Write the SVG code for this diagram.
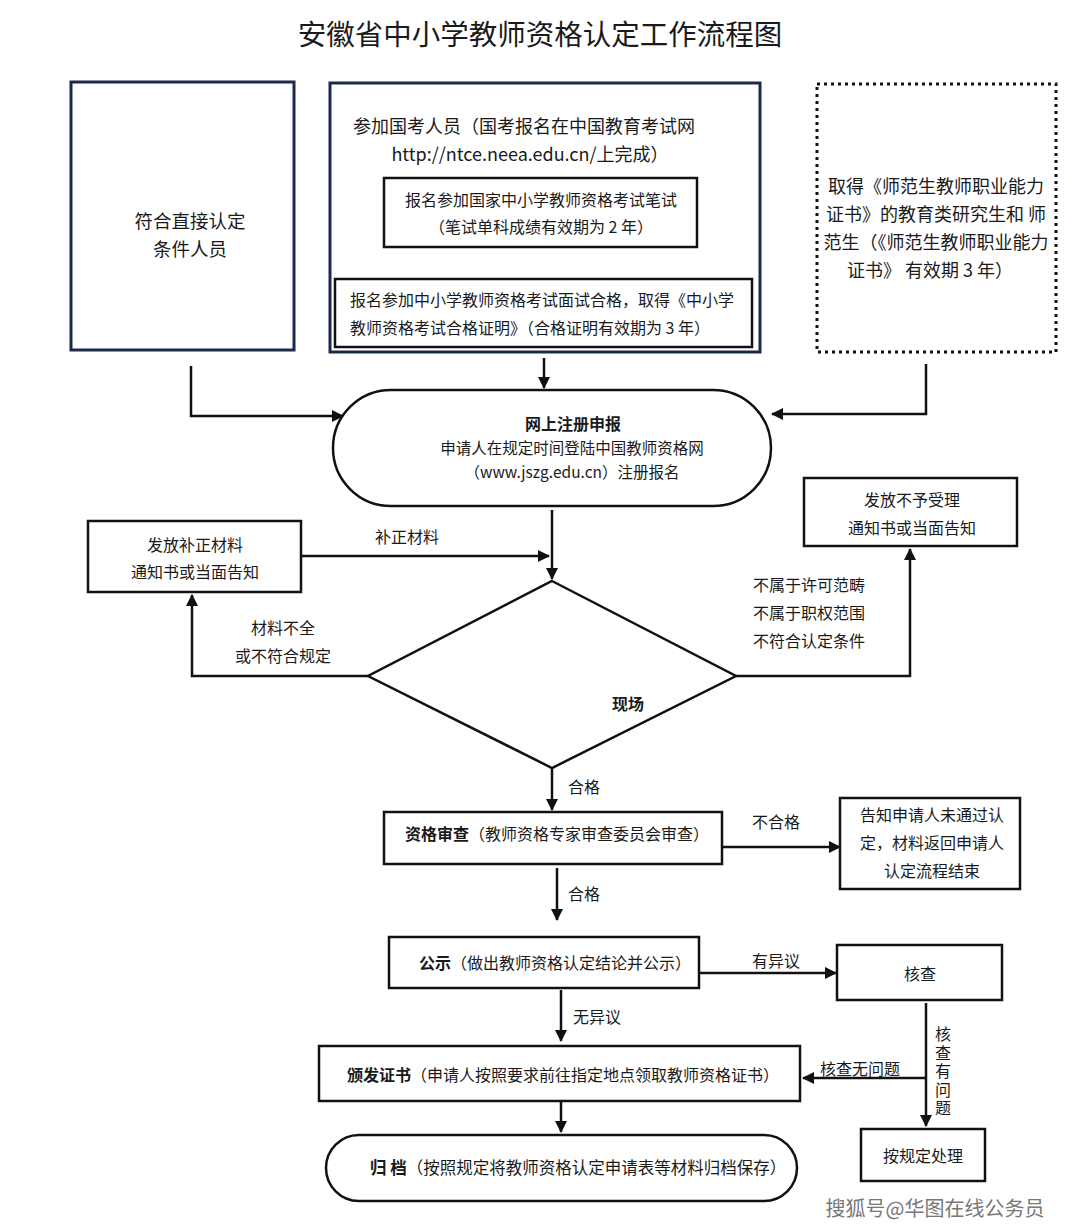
<svg xmlns="http://www.w3.org/2000/svg" width="1077" height="1232" viewBox="0 0 1077 1232">
<defs>
<marker id="ah" markerWidth="12" markerHeight="12" refX="11" refY="6" orient="auto" markerUnits="userSpaceOnUse">
<path d="M0,0 L12,6 L0,12 Z" fill="#111"/>
</marker>
<style>
text{font-family:"Noto Sans CJK SC","Liberation Sans",sans-serif;fill:#1a1a1a;}
.t16{font-size:16px;}
.t15{font-size:16px;}
.t17{font-size:18px;}
.c{text-anchor:middle;}
.b{font-weight:bold;}
.box{fill:#fff;stroke:#111;stroke-width:2.5;}
.navy{fill:#fff;stroke:#1c2a4a;stroke-width:3;}
.dot{fill:#fff;stroke:#111;stroke-width:3;stroke-dasharray:3 4;}
.ln{fill:none;stroke:#111;stroke-width:2.5;}
.ar{fill:none;stroke:#111;stroke-width:2.5;marker-end:url(#ah);}
</style>
</defs>
<rect width="1077" height="1232" fill="#fff"/>
<text x="540" y="45" class="c" style="font-size:28.5px">安徽省中小学教师资格认定工作流程图</text>

<g id="connectors">
<path class="ar" d="M541,247 L541,277"/>
<path class="ar" d="M544,358 L544,388"/>
<path class="ar" d="M191,366 L191,416 L343,416"/>
<path class="ar" d="M926,364 L926,414 L772,414"/>
<path class="ar" d="M552,510 L552,579"/>
<path class="ar" d="M301,556 L549,556"/>
<path class="ar" d="M368,676 L192,676 L192,595"/>
<path class="ar" d="M736,676 L910,676 L910,549"/>
<path class="ar" d="M552,768 L552,810"/>
<path class="ar" d="M722,847 L840,847"/>
<path class="ar" d="M557,868 L557,920"/>
<path class="ar" d="M699,973 L836,973"/>
<path class="ar" d="M561,990 L561,1041"/>
<path class="ar" d="M926,1003 L926,1126"/>
<path class="ar" d="M926,1078 L803,1078"/>
<path class="ar" d="M561,1101 L561,1132"/>
<text x="375" y="543" class="t16">补正材料</text>
<text x="283" y="634" class="t16 c">材料不全</text>
<text x="283" y="662" class="t16 c">或不符合规定</text>
<text x="753" y="591" class="t16">不属于许可范畴</text>
<text x="753" y="619" class="t16">不属于职权范围</text>
<text x="753" y="647" class="t16">不符合认定条件</text>
<text x="568" y="793" class="t16">合格</text>
<text x="752" y="828" class="t16">不合格</text>
<text x="568" y="900" class="t16">合格</text>
<text x="752" y="967" class="t16">有异议</text>
<text x="573" y="1023" class="t16">无异议</text>
<text x="820" y="1075" class="t16">核查无问题</text>
<text x="943" y="1026" class="t16" writing-mode="vertical-rl" style="letter-spacing:2.5px">核查有问题</text>
</g>

<g id="n-direct">
<rect class="navy" x="71" y="82" width="223" height="268"/>
<text x="190" y="228" class="c" style="font-size:18.5px">符合直接认定</text>
<text x="190" y="256" class="c" style="font-size:18.5px">条件人员</text>
</g>

<g id="n-exam">
<rect class="navy" x="330" y="83" width="430" height="269"/>
<text x="353" y="133" class="t17">参加国考人员（国考报名在中国教育考试网</text>
<text x="530" y="161" class="t17 c">http://ntce.neea.edu.cn/上完成）</text>
</g>
<g id="n-written">
<rect class="box" x="384" y="178" width="313" height="69"/>
<text x="541" y="206" class="t16 c">报名参加国家中小学教师资格考试笔试</text>
<text x="541" y="233" class="t16 c">（笔试单科成绩有效期为 2 年）</text>
</g>
<g id="n-interview">
<rect class="box" x="335" y="279" width="417" height="68"/>
<text x="350" y="306" class="t16">报名参加中小学教师资格考试面试合格，取得《中小学</text>
<text x="350" y="334" class="t16">教师资格考试合格证明》（合格证明有效期为 3 年）</text>
</g>

<g id="n-normal">
<rect class="dot" x="817" y="84" width="239" height="268"/>
<text x="936" y="193" class="t17 c">取得《师范生教师职业能力</text>
<text x="936" y="221" class="t17 c">证书》的教育类研究生和 师</text>
<text x="936" y="249" class="t17 c">范生（《师范生教师职业能力</text>
<text x="930" y="277" class="t17 c">证书》 有效期 3 年）</text>
</g>

<g id="n-register">
<rect class="box" x="333" y="390" width="438" height="116" rx="58" ry="58"/>
<text x="573" y="430" class="t16 c b">网上注册申报</text>
<text x="572" y="454" class="c" style="font-size:15.5px">申请人在规定时间登陆中国教师资格网</text>
<text x="572" y="478" class="c" style="font-size:15.5px">（www.jszg.edu.cn）注册报名</text>
</g>

<g id="n-supplement">
<rect class="box" x="88" y="521" width="213" height="71"/>
<text x="195" y="551" class="t16 c">发放补正材料</text>
<text x="195" y="578" class="t16 c">通知书或当面告知</text>
</g>

<g id="n-reject">
<rect class="box" x="804" y="478" width="213" height="68"/>
<text x="912" y="506" class="t16 c">发放不予受理</text>
<text x="912" y="534" class="t16 c">通知书或当面告知</text>
</g>

<g id="n-onsite">
<path class="box" d="M552,581 L736,676 L552,768 L368,676 Z"/>
<text x="628" y="710" class="t16 c b">现场</text>
</g>

<g id="n-review">
<rect class="box" x="384" y="812" width="338" height="52"/>
<text x="405" y="840" class="t15"><tspan class="b">资格审查</tspan>（教师资格专家审查委员会审查）</text>
</g>

<g id="n-fail">
<rect class="box" x="840" y="798" width="180" height="91"/>
<text x="932" y="821" class="t16 c">告知申请人未通过认</text>
<text x="932" y="849" class="t16 c">定，材料返回申请人</text>
<text x="932" y="877" class="t16 c">认定流程结束</text>
</g>

<g id="n-publicity">
<rect class="box" x="389" y="937" width="310" height="51"/>
<text x="555" y="969" class="t15 c"><tspan class="b">公示</tspan>（做出教师资格认定结论并公示）</text>
</g>

<g id="n-verify">
<rect class="box" x="837" y="945" width="165" height="55"/>
<text x="920" y="980" class="t16 c">核查</text>
</g>

<g id="n-issue">
<rect class="box" x="319" y="1046" width="481" height="55"/>
<text x="347" y="1081" class="t15"><tspan class="b">颁发证书</tspan>（申请人按照要求前往指定地点领取教师资格证书）</text>
</g>

<g id="n-handle">
<rect class="box" x="861" y="1129" width="124" height="52"/>
<text x="923" y="1162" class="t16 c">按规定处理</text>
</g>

<g id="n-archive">
<rect class="box" x="326" y="1135" width="471" height="66" rx="33" ry="33"/>
<text x="370" y="1174" class="t15" style="font-size:16.5px"><tspan class="b">归  档</tspan>（按照规定将教师资格认定申请表等材料归档保存）</text>
</g>

<text x="935" y="1216" class="c" style="font-size:20px;fill:#777">搜狐号@华图在线公务员</text>
</svg>
